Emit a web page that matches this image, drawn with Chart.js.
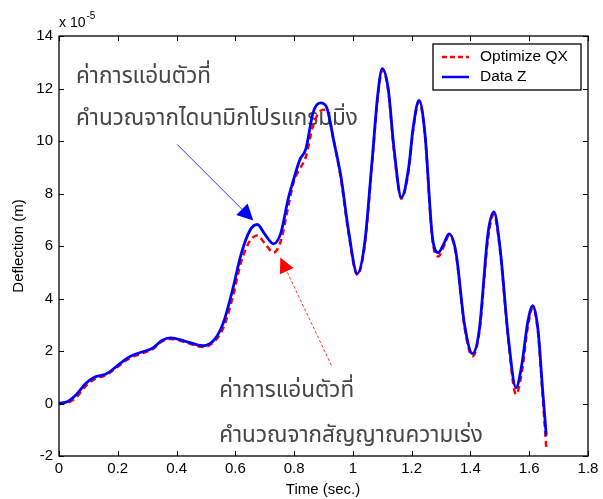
<!DOCTYPE html>
<html>
<head>
<meta charset="utf-8">
<script src="https://cdn.jsdelivr.net/npm/chart.js@4/dist/chart.umd.min.js"></script>
<style>
  html, body { margin: 0; padding: 0; background: #ffffff; }
  canvas { display: block; }
</style>
</head>
<body>
<canvas id="chart" width="603" height="499"></canvas>
<script>
// Sample times (s) shared by both deflection records
const timeSec = [
  0, 0.03, 0.06, 0.09, 0.12, 0.16, 0.20, 0.24, 0.28, 0.32, 0.35, 0.38, 0.43, 0.49,
  0.53, 0.56, 0.59, 0.62, 0.65, 0.675, 0.70, 0.73, 0.755, 0.78, 0.80, 0.82, 0.84,
  0.865, 0.89, 0.91, 0.935, 0.96, 0.985, 1.015, 1.04, 1.065, 1.085, 1.10, 1.12,
  1.14, 1.165, 1.19, 1.205, 1.225, 1.245, 1.27, 1.29, 1.31, 1.327, 1.35, 1.38,
  1.407, 1.43, 1.46, 1.48, 1.50, 1.53, 1.555, 1.575, 1.595, 1.612, 1.63, 1.645, 1.658
];

// Deflection, units of 1e-5 m
const optimizeQX = [
  0, 0.03, 0.25, 0.65, 0.92, 1.08, 1.40, 1.72, 1.90, 2.08, 2.36, 2.46, 2.33, 2.15,
  2.38, 2.90, 4.00, 5.40, 6.20, 6.40, 6.10, 5.75, 6.20, 7.50, 8.50, 8.95, 9.40,
  10.6, 11.15, 11.2, 10.0, 8.50, 6.50, 4.90, 6.00, 9.10, 11.7, 12.7, 11.95,
  9.60, 7.80, 8.90, 10.4, 11.5, 10.25, 6.30, 5.60, 6.00, 6.40, 5.75, 2.90,
  1.80, 2.70, 6.30, 7.20, 5.90, 2.30, 0.35, 1.20, 2.90, 3.65, 2.70, 0.40, -1.68
];

const dataZ = [
  0, 0.08, 0.35, 0.75, 1.00, 1.12, 1.45, 1.78, 1.95, 2.12, 2.40, 2.50, 2.37, 2.20,
  2.45, 3.10, 4.30, 5.70, 6.60, 6.82, 6.45, 6.08, 6.50, 7.80, 8.60, 9.30, 9.70,
  11.1, 11.45, 11.3, 10.0, 8.60, 6.60, 4.95, 6.10, 9.20, 11.8, 12.76, 12.0,
  9.70, 7.85, 9.00, 10.5, 11.55, 10.3, 6.40, 5.75, 6.10, 6.46, 5.80, 3.00,
  1.90, 2.80, 6.50, 7.30, 6.00, 2.40, 0.60, 1.50, 3.10, 3.73, 2.80, 0.60, -1.22
];

const seriesLabels = ['Optimize QX', 'Data Z'];
const xTickValues = [0, 0.2, 0.4, 0.6, 0.8, 1, 1.2, 1.4, 1.6, 1.8];
const yTickValues = [-2, 0, 2, 4, 6, 8, 10, 12, 14];
const xTitle = 'Time (sec.)';
const yTitle = 'Deflection (m)';
const yExponentBase = 'x 10';
const yExponent = '-5';

// Callout notes: two text lines plus an arrow, all placed in data units
const noteLinesTop = ['ค่าการแอ่นตัวที่', 'คำนวณจากไดนามิกโปรแกรมมิ่ง'];
const noteLinesBottom = ['ค่าการแอ่นตัวที่', 'คำนวณจากสัญญาณความเร่ง'];
const noteTopAt = [0.058, 12.38, 10.8];      // x, line-1 y, line-2 y
const noteBottomAt = [0.545, 0.42, -1.28];
const arrowTop = [0.402, 9.87, 0.661, 6.97];   // from x,y -> tip x,y
const arrowBottom = [0.927, 1.45, 0.753, 5.56];

const RED = '#ff0000';
const BLUE = '#0000ff';
const FONT = 'Arial, "Liberation Sans", Helvetica, sans-serif';
const THAI_FONT = '"Noto Sans Thai", "Noto Sans", "DejaVu Sans", sans-serif';

const toPoints = ys => timeSec.map((t, i) => ({ x: t, y: ys[i] }));

function drawArrow(ctx, x0, y0, x1, y1, color, dashed, head) {
  const ang = Math.atan2(y1 - y0, x1 - x0);
  const bx = x1 - head * Math.cos(ang), by = y1 - head * Math.sin(ang);
  ctx.save();
  ctx.strokeStyle = color;
  ctx.lineWidth = 0.8;
  if (dashed) ctx.setLineDash([3, 2]);
  ctx.beginPath();
  ctx.moveTo(x0, y0);
  ctx.lineTo(bx, by);
  ctx.stroke();
  ctx.setLineDash([]);
  const w = head * 0.5;
  ctx.fillStyle = color;
  ctx.beginPath();
  ctx.moveTo(x1, y1);
  ctx.lineTo(bx + w * Math.sin(ang), by - w * Math.cos(ang));
  ctx.lineTo(bx - w * Math.sin(ang), by + w * Math.cos(ang));
  ctx.closePath();
  ctx.fill();
  ctx.restore();
}

const framePlugin = {
  id: 'frame',
  beforeDatasetsDraw(chart) {
    // callout text sits beneath the curves
    const { ctx, scales: { x, y } } = chart;
    ctx.save();
    ctx.fillStyle = '#454545';
    ctx.font = '22.5px ' + THAI_FONT;
    ctx.textAlign = 'left';
    ctx.textBaseline = 'middle';
    ctx.fillText(noteLinesTop[0], x.getPixelForValue(noteTopAt[0]), y.getPixelForValue(noteTopAt[1]));
    ctx.fillText(noteLinesTop[1], x.getPixelForValue(noteTopAt[0]), y.getPixelForValue(noteTopAt[2]));
    ctx.fillText(noteLinesBottom[0], x.getPixelForValue(noteBottomAt[0]), y.getPixelForValue(noteBottomAt[1]));
    ctx.fillText(noteLinesBottom[1], x.getPixelForValue(noteBottomAt[0]), y.getPixelForValue(noteBottomAt[2]));
    ctx.restore();
  },
  afterDraw(chart) {
    const { ctx, chartArea: a, scales: { x, y } } = chart;
    ctx.save();
    // axes box
    ctx.strokeStyle = '#000';
    ctx.lineWidth = 1.3;
    ctx.strokeRect(a.left, a.top, a.right - a.left, a.bottom - a.top);
    // inward ticks on every side
    ctx.lineWidth = 1;
    const tl = 5;
    ctx.beginPath();
    xTickValues.forEach(v => {
      const px = Math.round(x.getPixelForValue(v)) + 0.5;
      ctx.moveTo(px, a.bottom); ctx.lineTo(px, a.bottom - tl);
      ctx.moveTo(px, a.top); ctx.lineTo(px, a.top + tl);
    });
    yTickValues.forEach(v => {
      const py = Math.round(y.getPixelForValue(v)) + 0.5;
      ctx.moveTo(a.left, py); ctx.lineTo(a.left + tl, py);
      ctx.moveTo(a.right, py); ctx.lineTo(a.right - tl, py);
    });
    ctx.stroke();

    // axis titles and exponent
    ctx.fillStyle = '#000';
    ctx.font = '15px ' + FONT;
    ctx.textAlign = 'center';
    ctx.textBaseline = 'middle';
    ctx.fillText(xTitle, (a.left + a.right) / 2 - 0.5, 490);
    ctx.save();
    ctx.translate(19, (a.top + a.bottom) / 2);
    ctx.rotate(-Math.PI / 2);
    ctx.fillText(yTitle, 0, 0);
    ctx.restore();
    ctx.textAlign = 'left';
    ctx.font = '14px ' + FONT;
    ctx.fillText(yExponentBase, a.left, 23);
    const bw = ctx.measureText(yExponentBase).width;
    ctx.font = '10px ' + FONT;
    ctx.fillText(yExponent, a.left + bw + 1, 16);

    // legend
    const lx = 433, ly = 44, lw = 148, lh = 46;
    ctx.fillStyle = '#fff';
    ctx.fillRect(lx, ly, lw, lh);
    ctx.strokeStyle = '#000';
    ctx.lineWidth = 1.3;
    ctx.strokeRect(lx, ly, lw, lh);
    const rows = [
      { label: seriesLabels[0], color: RED, dash: [5, 3], yy: ly + 13 },
      { label: seriesLabels[1], color: BLUE, dash: [], yy: ly + 33 }
    ];
    rows.forEach(r => {
      ctx.strokeStyle = r.color;
      ctx.lineWidth = 2.5;
      ctx.setLineDash(r.dash);
      ctx.beginPath();
      ctx.moveTo(lx + 9, r.yy);
      ctx.lineTo(lx + 36, r.yy);
      ctx.stroke();
      ctx.setLineDash([]);
      ctx.fillStyle = '#000';
      ctx.font = '15.5px ' + FONT;
      ctx.textAlign = 'left';
      ctx.textBaseline = 'middle';
      ctx.fillText(r.label, lx + 47, r.yy);
    });

    drawArrow(ctx,
      x.getPixelForValue(arrowTop[0]), y.getPixelForValue(arrowTop[1]),
      x.getPixelForValue(arrowTop[2]), y.getPixelForValue(arrowTop[3]), BLUE, false, 16);
    drawArrow(ctx,
      x.getPixelForValue(arrowBottom[0]), y.getPixelForValue(arrowBottom[1]),
      x.getPixelForValue(arrowBottom[2]), y.getPixelForValue(arrowBottom[3]), RED, true, 15);
    ctx.restore();
  }
};

new Chart(document.getElementById('chart'), {
  type: 'scatter',
  data: {
    datasets: [
      {
        label: seriesLabels[0],
        data: toPoints(optimizeQX),
        showLine: true,
        borderColor: RED,
        borderWidth: 2.5,
        borderDash: [6, 4],
        pointRadius: 0,
        cubicInterpolationMode: 'monotone',
        order: 2
      },
      {
        label: seriesLabels[1],
        data: toPoints(dataZ),
        showLine: true,
        borderColor: BLUE,
        borderWidth: 2.8,
        pointRadius: 0,
        cubicInterpolationMode: 'monotone',
        order: 1
      }
    ]
  },
  options: {
    responsive: false,
    animation: false,
    events: [],
    layout: { padding: { top: 36, right: 15, left: 0, bottom: 0 } },
    plugins: { legend: { display: false }, tooltip: { enabled: false } },
    scales: {
      x: {
        type: 'linear',
        min: 0, max: 1.8,
        afterBuildTicks: s => { s.ticks = xTickValues.map(v => ({ value: v })); },
        afterFit: s => { s.height = 43; },
        grid: { display: false, drawTicks: false },
        border: { display: false },
        ticks: {
          color: '#000', padding: 4, maxRotation: 0, autoSkip: false,
          font: { family: FONT, size: 15 },
          callback: v => String(+v.toFixed(1))
        }
      },
      y: {
        type: 'linear',
        min: -2, max: 14,
        afterBuildTicks: s => { s.ticks = yTickValues.map(v => ({ value: v })); },
        afterFit: s => { s.width = 59; },
        grid: { display: false, drawTicks: false },
        border: { display: false },
        ticks: {
          color: '#000', padding: 6, autoSkip: false,
          font: { family: FONT, size: 15 },
          callback: v => String(v)
        }
      }
    }
  },
  plugins: [framePlugin]
});
</script>
</body>
</html>
